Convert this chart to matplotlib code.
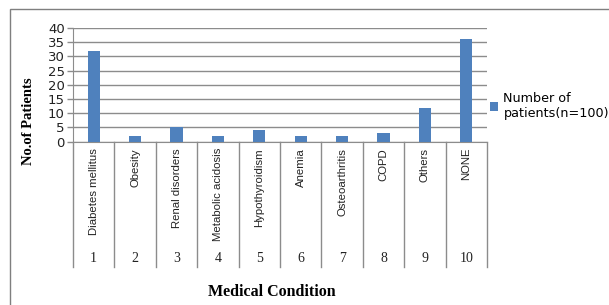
import matplotlib
matplotlib.use("Agg")
import matplotlib.pyplot as plt
from matplotlib.patches import Rectangle
from matplotlib.transforms import blended_transform_factory

categories = ["Diabetes mellitus", "Obesity", "Renal disorders", "Metabolic acidosis",
              "Hypothyroidism", "Anemia", "Osteoarthritis", "COPD", "Others", "NONE"]
numbers = ["1", "2", "3", "4", "5", "6", "7", "8", "9", "10"]
values = [32, 2, 5, 2, 4, 2, 2, 3, 12, 36]
series_name = "Number of\npatients(n=100)"

W, H = 609, 305
fig = plt.figure(figsize=(W / 100, H / 100), dpi=100)
fig.patch.set_facecolor("white")

x0, x1 = 73, 487
ytop, ybot = 28, 141.7
ax = fig.add_axes([x0 / W, 1 - ybot / H, (x1 - x0) / W, (ybot - ytop) / H])

xs = list(range(len(categories)))
ax.bar(xs, values, width=0.29, color="#4F81BD", zorder=3, label=series_name)
ax.set_xlim(-0.5, len(categories) - 0.5)
ax.set_ylim(0, 40)
ax.set_yticks(range(0, 41, 5))
ax.yaxis.grid(True, color="#8c8c8c", linewidth=1.0, zorder=0)
ax.set_axisbelow(True)
ax.tick_params(axis="y", length=4, color="#8c8c8c", width=1.0, pad=2, labelsize=9.5,
               labelcolor="#222222")
for lbl in ax.get_yticklabels():
    lbl.set_family("DejaVu Sans")
ax.set_xticks([])
for s in ["top", "right"]:
    ax.spines[s].set_visible(False)
ax.spines["left"].set_color("#8c8c8c")
ax.spines["bottom"].set_color("#8c8c8c")

# category area below the axis
trans = blended_transform_factory(ax.transData, ax.transAxes)
ah = ybot - ytop
div_bottom = -(267 - ybot) / ah
for i in range(len(categories) + 1):
    ax.plot([i - 0.5, i - 0.5], [0, div_bottom], transform=trans, color="#8c8c8c",
            linewidth=1.0, clip_on=False)
lab_top = -(148 - ybot) / ah
num_y = -(258 - ybot) / ah
for i, (c, n) in enumerate(zip(categories, numbers)):
    ax.text(i, lab_top, c, transform=trans, rotation=90, ha="center", va="top",
            fontsize=8.2, family="Liberation Sans", color="#222222")
    ax.text(i, num_y, n, transform=trans, ha="center", va="center",
            fontsize=10, family="Liberation Serif", color="#222222")

fig.text(272 / W, 1 - 292 / H, "Medical Condition", ha="center", va="center",
         fontsize=11.5, fontweight="bold", family="Liberation Serif")
fig.text(29 / W, 1 - 121 / H, "No.of Patients", ha="center", va="center", rotation=90,
         fontsize=10.5, fontweight="bold", family="Liberation Serif")

leg = ax.legend(loc="center left", bbox_to_anchor=(490 / W, 1 - 106 / H),
                bbox_transform=fig.transFigure, frameon=False, handlelength=0.65,
                handleheight=0.65, handletextpad=0.4, borderpad=0, borderaxespad=0,
                labelspacing=0.2, prop={"family": "DejaVu Sans", "size": 9.2})

fig.patches.append(Rectangle((10 / W, -0.1), 1.0, 1.1 - 9 / H, transform=fig.transFigure,
                             fill=False, edgecolor="#7f7f7f", linewidth=1.0))

fig.savefig("out.png", dpi=100)
